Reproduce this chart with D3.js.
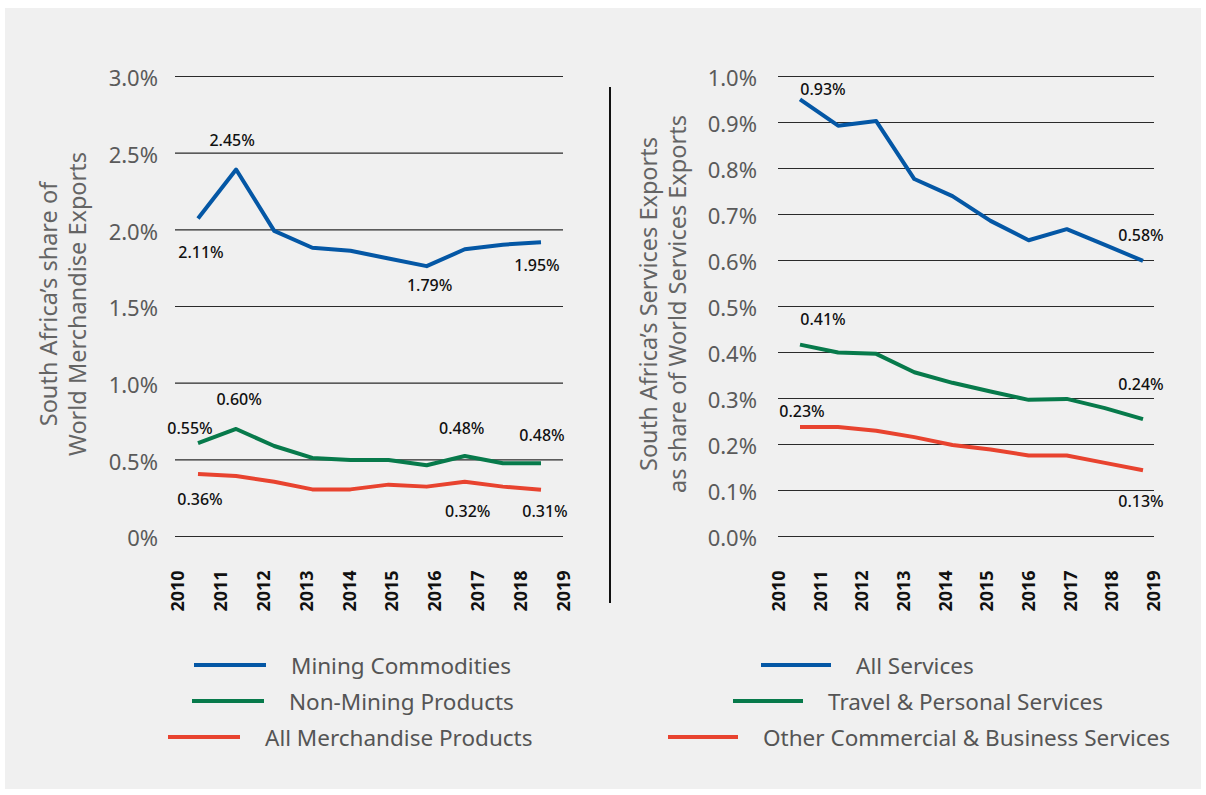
<!DOCTYPE html>
<html><head><meta charset="utf-8">
<script src="https://cdn.jsdelivr.net/npm/d3@7"></script>
<style>body{margin:0;background:#fff} text{font-family:"Noto Sans",sans-serif}</style>
</head><body><svg id="c" width="1206" height="795"></svg>
<script>
// ---- data ----
const years = ["2010","2011","2012","2013","2014","2015","2016","2017","2018","2019"];
const miningCommodities = [2.07,2.39,1.99,1.88,1.86,1.81,1.76,1.87,1.90,1.915];
const nonMiningProducts = [0.605,0.698,0.587,0.509,0.496,0.496,0.461,0.522,0.474,0.474];
const allMerchandiseProducts = [0.404,0.391,0.354,0.304,0.304,0.335,0.322,0.354,0.322,0.302];
const allServices = [0.949,0.892,0.902,0.776,0.739,0.685,0.643,0.667,0.633,0.598];
const travelPersonalServices = [0.416,0.399,0.396,0.356,0.333,0.314,0.296,0.298,0.278,0.254];
const otherCommercialServices = [0.237,0.237,0.229,0.215,0.198,0.188,0.175,0.175,0.159,0.143];
const leftTicks = [0,0.5,1.0,1.5,2.0,2.5,3.0];
const leftTickLabels = ["0%","0.5%","1.0%","1.5%","2.0%","2.5%","3.0%"];
const rightTicks = [0,0.1,0.2,0.3,0.4,0.5,0.6,0.7,0.8,0.9,1.0];
const rightTickLabels = ["0.0%","0.1%","0.2%","0.3%","0.4%","0.5%","0.6%","0.7%","0.8%","0.9%","1.0%"];
const leftNames = ["Mining Commodities","Non-Mining Products","All Merchandise Products"];
const rightNames = ["All Services","Travel & Personal Services","Other Commercial & Business Services"];
// annotation labels: [series index, point index, text]
const leftNotes = [[0,0,"2.11%"],[0,1,"2.45%"],[0,6,"1.79%"],[0,9,"1.95%"],
  [1,0,"0.55%"],[1,1,"0.60%"],[1,7,"0.48%"],[1,9,"0.48%"],
  [2,0,"0.36%"],[2,7,"0.32%"],[2,9,"0.31%"]];
const rightNotes = [[0,0,"0.93%"],[0,9,"0.58%"],[1,0,"0.41%"],[1,9,"0.24%"],[2,0,"0.23%"],[2,9,"0.13%"]];

// ---- layout / style ----
const colors = ["#0457a5","#077a4b","#e8432f"];
const leftNoteOffsets = [[3,39],[-4,-24],[3,25],[-4,29],[-8,-9],[3,-24],[-3,-22],[1,-22],[2,31],[3,35],[4,27]];
const rightNoteOffsets = [[23,-4],[-2,-20],[23,-20],[-2,-29],[2,-10],[-2,37]];

const svg = d3.select("#c");
svg.append("rect").attr("x",5).attr("y",8).attr("width",1196).attr("height",781).attr("fill","#f0f0f0");

function panel(cfg){
  const g = svg.append("g");
  const y = d3.scaleLinear().domain([0,cfg.yMax]).range([536,76]);
  const xLab = d3.scalePoint().domain(years).range(cfg.labRange);
  const xPt = d3.scalePoint().domain(years).range(cfg.ptRange);
  const axis = d3.axisLeft(y).tickValues(cfg.ticks).tickSize(-(cfg.gridX[1]-cfg.gridX[0]))
     .tickPadding(cfg.pad).tickFormat((d,i)=>cfg.tickLabels[i]);
  const ag = g.append("g").attr("transform",`translate(${cfg.gridX[0]},0)`).call(axis);
  ag.select(".domain").remove();
  ag.selectAll(".tick line").attr("stroke","#2a2a2a").attr("stroke-width",1.2);
  ag.selectAll(".tick text").attr("fill","#5a5a5a").attr("font-size",22).attr("dy","0.45em")
     .style("font-family","'Noto Sans',sans-serif");
  // year labels
  g.selectAll(".yr").data(years).join("text").attr("class","yr")
    .attr("transform",d=>`translate(${xLab(d)},591) rotate(-90)`)
    .attr("text-anchor","middle").attr("dominant-baseline","central")
    .attr("font-size",18).attr("font-weight","bold").attr("fill","#111").text(d=>d);
  // lines
  const line = d3.line().x((d,i)=>xPt(years[i])).y(d=>y(d));
  cfg.series.forEach((s,k)=>{
    g.append("path").datum(s).attr("d",line).attr("fill","none")
     .attr("stroke",colors[k]).attr("stroke-width",4).attr("stroke-linejoin","round");
  });
  // annotations
  cfg.notes.forEach((n,i)=>{
    const [si,pi,t]=n; const off=cfg.noteOffsets[i];
    g.append("text").attr("x",xPt(years[pi])+off[0]).attr("y",y(cfg.series[si][pi])+off[1])
     .attr("text-anchor","middle").attr("font-size",16).attr("font-weight",500)
     .attr("fill","#111").text(t);
  });
  // title
  cfg.title.forEach((t,i)=>{
    g.append("text").attr("transform",`translate(${cfg.titleX[i]},304) rotate(-90)`)
     .attr("text-anchor","middle").attr("dominant-baseline","central")
     .attr("font-size",23.5).attr("fill","#646464").text(t);
  });
  // legend
  cfg.names.forEach((nm,k)=>{
    const ly = 665 + k*36, lx = cfg.legendX[k];
    g.append("line").attr("x1",lx).attr("x2",lx+cfg.legLen).attr("y1",ly).attr("y2",ly)
     .attr("stroke",colors[k]).attr("stroke-width",4);
    g.append("text").attr("x",lx+cfg.legLen+25).attr("y",ly).attr("dominant-baseline","central")
     .attr("font-size",22.5).attr("fill","#555").text(nm);
  });
}

panel({yMax:3.0,ticks:leftTicks,tickLabels:leftTickLabels,gridX:[175,563],pad:17,
  labRange:[177,563],ptRange:[198,541],
  series:[miningCommodities,nonMiningProducts,allMerchandiseProducts],
  notes:leftNotes,noteOffsets:leftNoteOffsets,
  title:["South Africa’s share of","World Merchandise Exports"],titleX:[48,77],
  names:leftNames,legendX:[194,192,168],legLen:72});

panel({yMax:1.0,ticks:rightTicks,tickLabels:rightTickLabels,gridX:[778,1154],pad:21,
  labRange:[778,1153],ptRange:[800,1143],
  series:[allServices,travelPersonalServices,otherCommercialServices],
  notes:rightNotes,noteOffsets:rightNoteOffsets,
  title:["South Africa’s Services Exports","as share of World Services Exports"],titleX:[648,677],
  names:rightNames,legendX:[761,733,668],legLen:70});

svg.append("line").attr("x1",610).attr("x2",610).attr("y1",87).attr("y2",603)
  .attr("stroke","#111").attr("stroke-width",2);
</script></body></html>
